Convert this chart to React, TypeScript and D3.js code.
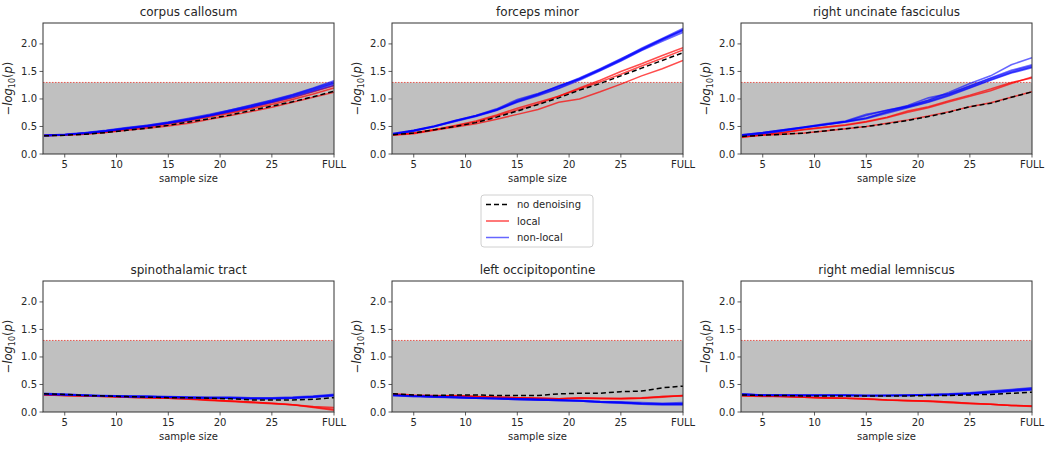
import React from "react";
import * as d3 from "d3";

const sampleSizes = [3, 5, 7, 9, 11, 13, 15, 17, 19, 21, 23, 25, 27, 29, 31];
const xTickValues = [5, 10, 15, 20, 25, 31];
const xTickLabels = ["5", "10", "15", "20", "25", "FULL"];
const yTickValues = [0, 0.5, 1.0, 1.5, 2.0];
const threshold = 1.3;
const panelTitles = [
  "corpus callosum",
  "forceps minor",
  "right uncinate fasciculus",
  "spinothalamic tract",
  "left occipitopontine",
  "right medial lemniscus",
];
const legendLabels = ["no denoising", "local", "non-local"];

// corpus callosum
const ccNone = [0.33, 0.34, 0.36, 0.39, 0.43, 0.47, 0.52, 0.58, 0.64, 0.71, 0.79, 0.87, 0.95, 1.04, 1.14];
const ccLocal = [
  [0.33, 0.34, 0.36, 0.39, 0.43, 0.47, 0.51, 0.56, 0.63, 0.70, 0.77, 0.85, 0.94, 1.03, 1.12],
  [0.34, 0.35, 0.37, 0.40, 0.45, 0.49, 0.54, 0.60, 0.67, 0.74, 0.82, 0.90, 0.99, 1.09, 1.20],
  [0.33, 0.35, 0.37, 0.41, 0.46, 0.50, 0.56, 0.62, 0.69, 0.76, 0.84, 0.93, 1.02, 1.13, 1.24],
];
const ccNonLocal = [
  [0.34, 0.35, 0.38, 0.42, 0.47, 0.51, 0.57, 0.63, 0.70, 0.78, 0.86, 0.95, 1.05, 1.16, 1.28],
  [0.33, 0.35, 0.38, 0.42, 0.46, 0.51, 0.56, 0.62, 0.69, 0.77, 0.85, 0.94, 1.03, 1.14, 1.25],
  [0.34, 0.36, 0.39, 0.43, 0.48, 0.52, 0.58, 0.65, 0.72, 0.80, 0.88, 0.97, 1.07, 1.19, 1.31],
  [0.33, 0.35, 0.38, 0.41, 0.46, 0.50, 0.56, 0.62, 0.70, 0.78, 0.87, 0.96, 1.06, 1.17, 1.29],
  [0.34, 0.35, 0.38, 0.42, 0.47, 0.52, 0.57, 0.64, 0.71, 0.80, 0.89, 0.98, 1.08, 1.20, 1.33],
];

// forceps minor
const fmNone = [0.35, 0.38, 0.44, 0.50, 0.57, 0.67, 0.78, 0.90, 1.02, 1.16, 1.28, 1.42, 1.56, 1.70, 1.84];
const fmLocal = [
  [0.35, 0.38, 0.44, 0.52, 0.60, 0.71, 0.83, 0.94, 1.05, 1.20, 1.34, 1.50, 1.64, 1.79, 1.93],
  [0.34, 0.37, 0.43, 0.49, 0.55, 0.63, 0.72, 0.81, 0.94, 1.00, 1.13, 1.27, 1.42, 1.55, 1.70],
  [0.35, 0.38, 0.44, 0.51, 0.58, 0.69, 0.80, 0.91, 1.05, 1.18, 1.31, 1.45, 1.60, 1.74, 1.89],
];
const fmNonLocal = [
  [0.36, 0.42, 0.50, 0.60, 0.69, 0.80, 0.95, 1.07, 1.20, 1.36, 1.53, 1.71, 1.90, 2.08, 2.25],
  [0.37, 0.43, 0.51, 0.61, 0.70, 0.81, 0.97, 1.09, 1.22, 1.37, 1.54, 1.72, 1.92, 2.10, 2.28],
  [0.36, 0.42, 0.50, 0.59, 0.68, 0.79, 0.94, 1.06, 1.19, 1.34, 1.51, 1.69, 1.88, 2.05, 2.21],
  [0.37, 0.43, 0.51, 0.61, 0.70, 0.82, 0.99, 1.10, 1.23, 1.38, 1.55, 1.73, 1.91, 2.09, 2.26],
  [0.36, 0.42, 0.50, 0.60, 0.69, 0.80, 0.96, 1.08, 1.24, 1.36, 1.52, 1.70, 1.89, 2.07, 2.24],
];

// right uncinate fasciculus
const ruNone = [0.32, 0.34, 0.36, 0.38, 0.42, 0.46, 0.50, 0.55, 0.61, 0.68, 0.76, 0.86, 0.92, 1.03, 1.13];
const ruLocal = [
  [0.31, 0.35, 0.39, 0.44, 0.48, 0.52, 0.58, 0.66, 0.76, 0.84, 0.95, 1.05, 1.15, 1.28, 1.40],
  [0.32, 0.34, 0.36, 0.38, 0.42, 0.46, 0.50, 0.56, 0.62, 0.69, 0.77, 0.86, 0.93, 1.03, 1.13],
  [0.30, 0.35, 0.39, 0.45, 0.49, 0.53, 0.59, 0.67, 0.78, 0.86, 0.97, 1.07, 1.18, 1.30, 1.38],
];
const ruNonLocal = [
  [0.34, 0.38, 0.43, 0.48, 0.53, 0.58, 0.65, 0.76, 0.85, 0.95, 1.07, 1.21, 1.35, 1.48, 1.58],
  [0.35, 0.39, 0.44, 0.49, 0.54, 0.59, 0.66, 0.77, 0.87, 0.97, 1.09, 1.23, 1.37, 1.50, 1.60],
  [0.34, 0.38, 0.43, 0.48, 0.53, 0.59, 0.70, 0.80, 0.86, 0.98, 1.12, 1.28, 1.42, 1.62, 1.75],
  [0.33, 0.37, 0.42, 0.48, 0.53, 0.58, 0.64, 0.74, 0.84, 0.94, 1.06, 1.20, 1.34, 1.47, 1.57],
  [0.35, 0.39, 0.44, 0.49, 0.55, 0.60, 0.72, 0.79, 0.88, 1.02, 1.10, 1.24, 1.38, 1.52, 1.62],
];

// spinothalamic tract
const stNone = [0.33, 0.32, 0.30, 0.29, 0.28, 0.27, 0.26, 0.26, 0.25, 0.24, 0.22, 0.22, 0.22, 0.23, 0.26];
const stLocal = [
  [0.31, 0.30, 0.29, 0.28, 0.27, 0.26, 0.25, 0.24, 0.22, 0.20, 0.18, 0.16, 0.13, 0.08, 0.03],
  [0.32, 0.30, 0.29, 0.28, 0.27, 0.26, 0.25, 0.23, 0.21, 0.19, 0.17, 0.15, 0.13, 0.10, 0.08],
  [0.31, 0.30, 0.29, 0.28, 0.27, 0.26, 0.25, 0.24, 0.22, 0.20, 0.18, 0.16, 0.13, 0.09, 0.05],
];
const stNonLocal = [
  [0.33, 0.32, 0.30, 0.29, 0.28, 0.28, 0.27, 0.26, 0.26, 0.26, 0.25, 0.25, 0.26, 0.28, 0.30],
  [0.32, 0.31, 0.30, 0.29, 0.28, 0.28, 0.27, 0.26, 0.25, 0.25, 0.24, 0.24, 0.25, 0.27, 0.29],
  [0.34, 0.32, 0.31, 0.30, 0.29, 0.29, 0.28, 0.27, 0.27, 0.27, 0.26, 0.26, 0.27, 0.29, 0.32],
  [0.33, 0.31, 0.30, 0.29, 0.28, 0.27, 0.27, 0.26, 0.25, 0.25, 0.24, 0.24, 0.25, 0.27, 0.31],
  [0.32, 0.32, 0.31, 0.29, 0.29, 0.28, 0.27, 0.27, 0.26, 0.26, 0.25, 0.25, 0.26, 0.28, 0.31],
];

// left occipitopontine
const loNone = [0.33, 0.31, 0.30, 0.31, 0.31, 0.30, 0.30, 0.30, 0.33, 0.34, 0.34, 0.37, 0.38, 0.44, 0.47];
const loLocal = [
  [0.33, 0.31, 0.30, 0.29, 0.28, 0.27, 0.26, 0.25, 0.24, 0.25, 0.24, 0.24, 0.25, 0.27, 0.30],
  [0.32, 0.30, 0.29, 0.30, 0.28, 0.27, 0.26, 0.25, 0.24, 0.26, 0.25, 0.24, 0.25, 0.28, 0.30],
  [0.32, 0.30, 0.29, 0.29, 0.28, 0.27, 0.26, 0.25, 0.24, 0.25, 0.25, 0.25, 0.26, 0.28, 0.29],
];
const loNonLocal = [
  [0.31, 0.29, 0.28, 0.27, 0.26, 0.25, 0.24, 0.23, 0.22, 0.21, 0.19, 0.18, 0.16, 0.15, 0.15],
  [0.30, 0.29, 0.28, 0.27, 0.25, 0.24, 0.23, 0.22, 0.21, 0.20, 0.18, 0.17, 0.15, 0.14, 0.14],
  [0.30, 0.28, 0.27, 0.26, 0.25, 0.24, 0.23, 0.22, 0.21, 0.20, 0.18, 0.16, 0.14, 0.13, 0.13],
  [0.31, 0.29, 0.28, 0.27, 0.26, 0.25, 0.24, 0.23, 0.22, 0.21, 0.19, 0.18, 0.17, 0.16, 0.17],
  [0.30, 0.29, 0.28, 0.26, 0.25, 0.24, 0.23, 0.22, 0.21, 0.20, 0.18, 0.17, 0.15, 0.14, 0.15],
];

// right medial lemniscus
const rmNone = [0.31, 0.30, 0.30, 0.29, 0.29, 0.29, 0.29, 0.29, 0.29, 0.30, 0.30, 0.31, 0.32, 0.34, 0.36];
const rmLocal = [
  [0.30, 0.29, 0.28, 0.27, 0.26, 0.25, 0.24, 0.22, 0.21, 0.20, 0.18, 0.16, 0.14, 0.12, 0.11],
  [0.30, 0.29, 0.28, 0.27, 0.25, 0.25, 0.23, 0.22, 0.20, 0.20, 0.18, 0.16, 0.14, 0.12, 0.10],
  [0.29, 0.28, 0.28, 0.27, 0.26, 0.25, 0.24, 0.22, 0.21, 0.19, 0.17, 0.15, 0.14, 0.12, 0.11],
];
const rmNonLocal = [
  [0.32, 0.31, 0.31, 0.31, 0.30, 0.31, 0.30, 0.30, 0.30, 0.31, 0.32, 0.34, 0.36, 0.39, 0.42],
  [0.33, 0.31, 0.31, 0.30, 0.30, 0.30, 0.30, 0.30, 0.31, 0.31, 0.32, 0.33, 0.35, 0.38, 0.40],
  [0.32, 0.31, 0.30, 0.30, 0.31, 0.31, 0.30, 0.30, 0.30, 0.32, 0.33, 0.35, 0.38, 0.41, 0.44],
  [0.31, 0.30, 0.30, 0.30, 0.30, 0.30, 0.29, 0.30, 0.30, 0.31, 0.31, 0.33, 0.35, 0.38, 0.41],
  [0.32, 0.31, 0.31, 0.31, 0.31, 0.30, 0.30, 0.30, 0.31, 0.31, 0.32, 0.34, 0.37, 0.40, 0.43],
];

const panelData = [
  { none: ccNone, local: ccLocal, nonLocal: ccNonLocal },
  { none: fmNone, local: fmLocal, nonLocal: fmNonLocal },
  { none: ruNone, local: ruLocal, nonLocal: ruNonLocal },
  { none: stNone, local: stLocal, nonLocal: stNonLocal },
  { none: loNone, local: loLocal, nonLocal: loNonLocal },
  { none: rmNone, local: rmLocal, nonLocal: rmNonLocal },
];

const W = 1050;
const H = 449;
const colLefts = [43, 392, 741];
const rowTops = [23, 281];
const PW = 291;
const PH = 131;
const FONT = "DejaVu Sans, sans-serif";
const TEXT = "#262626";

const x = d3.scaleLinear().domain([2.9, 31]).range([0, PW]);
const y = d3.scaleLinear().domain([0, 2.38]).range([PH, 0]);

const line = d3
  .line<number>()
  .x((_, i) => x(sampleSizes[i]))
  .y((d) => y(d));

function Panel({ idx }: { idx: number }) {
  const col = idx % 3;
  const row = Math.floor(idx / 3);
  const left = colLefts[col];
  const top = rowTops[row];
  const d = panelData[idx];
  const clipId = `clip${idx}`;
  return (
    <g transform={`translate(${left},${top})`}>
      <defs>
        <clipPath id={clipId}>
          <rect x={0} y={0} width={PW} height={PH} />
        </clipPath>
      </defs>
      <rect x={0} y={y(threshold)} width={PW} height={PH - y(threshold)} fill="#c0c0c0" />
      <line x1={0} x2={PW} y1={y(threshold)} y2={y(threshold)} stroke="#e8584f" strokeWidth={1} strokeDasharray="1.5,1.5" />
      <g clipPath={`url(#${clipId})`}>
        {d.local.map((s, i) => (
          <path key={"l" + i} d={line(s) || ""} fill="none" stroke="#ff0000" strokeOpacity={0.7} strokeWidth={1.5} />
        ))}
        {d.nonLocal.map((s, i) => (
          <path key={"n" + i} d={line(s) || ""} fill="none" stroke="#0000ff" strokeOpacity={0.6} strokeWidth={1.6} />
        ))}
        <path d={line(d.none) || ""} fill="none" stroke="#000" strokeWidth={1.5} strokeDasharray="5,3" />
      </g>
      <rect x={0} y={0} width={PW} height={PH} fill="none" stroke="#333" strokeWidth={1} />
      {yTickValues.map((v) => (
        <g key={"y" + v} transform={`translate(0,${y(v)})`}>
          <line x1={-3.5} x2={0} stroke="#333" strokeWidth={0.8} />
          <text x={-6} dy="0.35em" textAnchor="end" fontSize={10} fontFamily={FONT} fill={TEXT}>
            {v.toFixed(1)}
          </text>
        </g>
      ))}
      {xTickValues.map((v, i) => (
        <g key={"x" + v} transform={`translate(${x(v)},${PH})`}>
          <line y1={0} y2={3.5} stroke="#333" strokeWidth={0.8} />
          <text y={14} textAnchor="middle" fontSize={10} fontFamily={FONT} fill={TEXT}>
            {xTickLabels[i]}
          </text>
        </g>
      ))}
      <text x={PW / 2} y={-7} textAnchor="middle" fontSize={12} fontFamily={FONT} fill={TEXT}>
        {panelTitles[idx]}
      </text>
      <text x={PW / 2} y={PH + 28} textAnchor="middle" fontSize={10} fontFamily={FONT} fill={TEXT}>
        sample size
      </text>
      <text
        transform={`translate(${-31},${PH / 2}) rotate(-90)`}
        textAnchor="middle"
        fontSize={11.5}
        fontFamily={FONT}
        fill={TEXT}
      >
        <tspan>−</tspan>
        <tspan fontStyle="italic">log</tspan>
        <tspan fontSize={8} dy={2.5}>10</tspan>
        <tspan dy={-2.5}>(</tspan>
        <tspan fontStyle="italic">p</tspan>
        <tspan>)</tspan>
      </text>
    </g>
  );
}

function Legend() {
  const lx = 481;
  const ly = 195;
  const items = [
    { label: legendLabels[0], color: "#000", dash: "5,3", op: 1 },
    { label: legendLabels[1], color: "#ff0000", dash: undefined, op: 0.7 },
    { label: legendLabels[2], color: "#0000ff", dash: undefined, op: 0.6 },
  ];
  return (
    <g transform={`translate(${lx},${ly})`}>
      <rect x={0} y={0} width={112} height={52} rx={3} fill="#fff" stroke="#d0d0d0" strokeWidth={1} />
      {items.map((it, i) => (
        <g key={it.label} transform={`translate(0,${9.5 + i * 16.5})`}>
          <line x1={5} x2={28} stroke={it.color} strokeOpacity={it.op} strokeWidth={1.5} strokeDasharray={it.dash} />
          <text x={36} dy="0.35em" fontSize={10} fontFamily={FONT} fill={TEXT}>
            {it.label}
          </text>
        </g>
      ))}
    </g>
  );
}

export default function App() {
  return (
    <svg width={W} height={H} style={{ position: "absolute", left: 0, top: 0, background: "#fff" }}>
      {panelData.map((_, i) => (
        <Panel key={i} idx={i} />
      ))}
      <Legend />
    </svg>
  );
}
